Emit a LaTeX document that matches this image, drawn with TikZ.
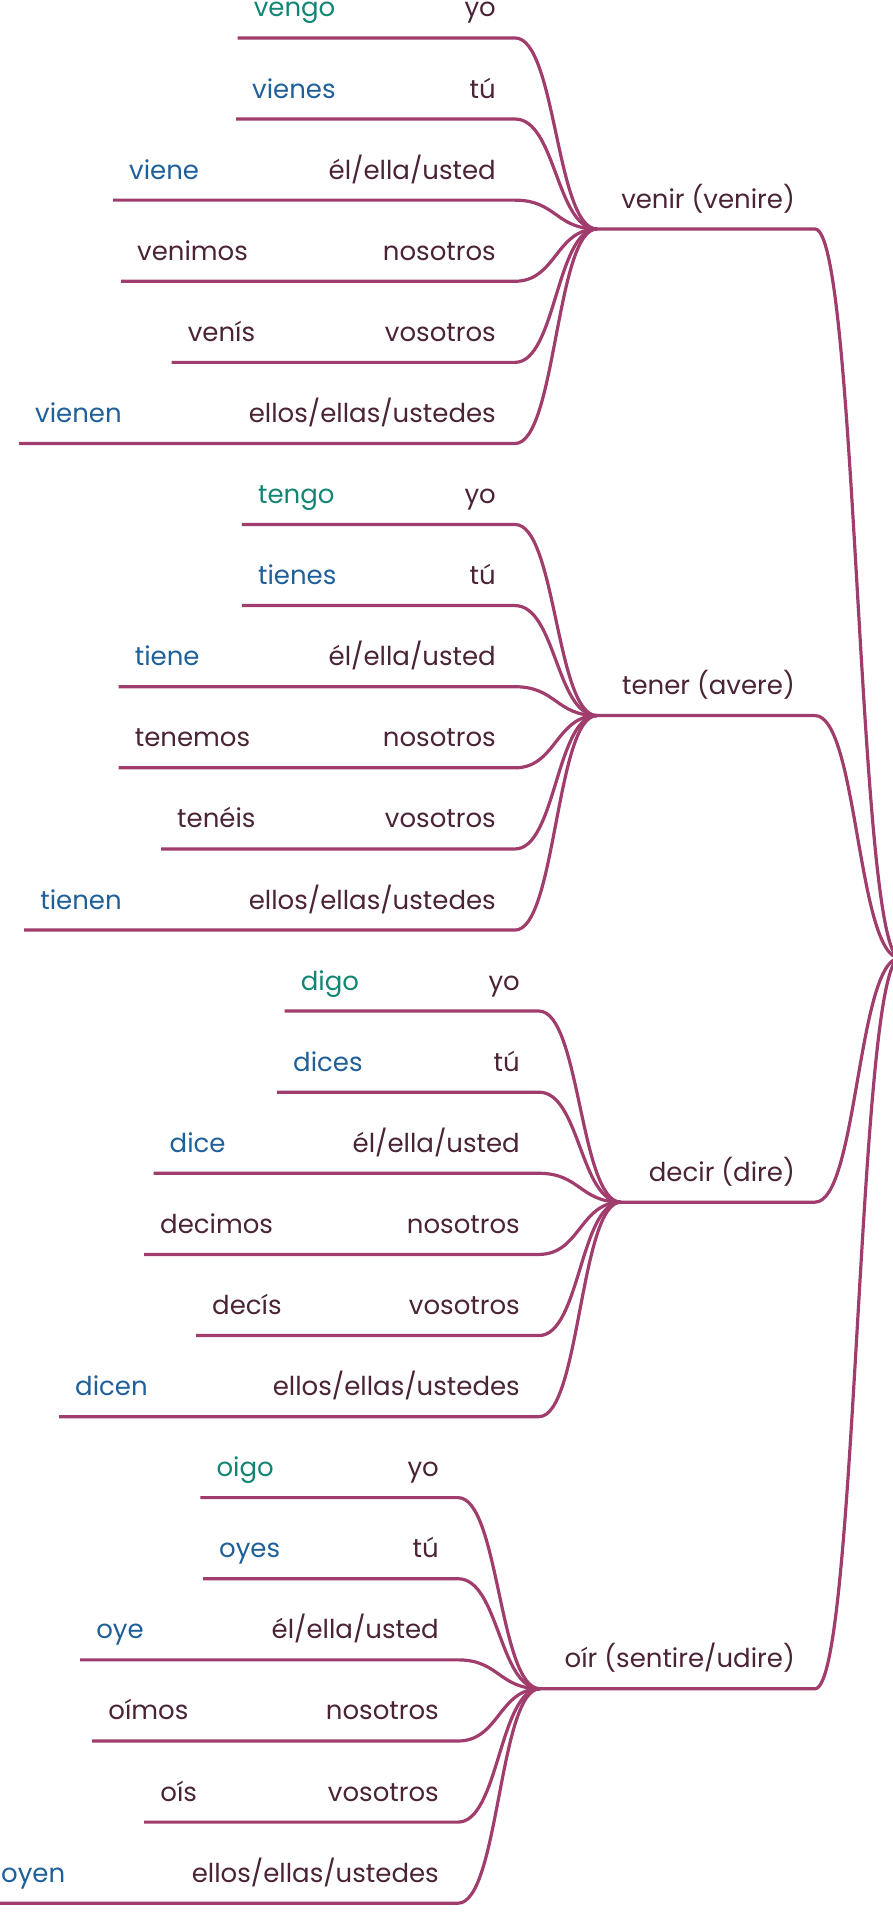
\documentclass[tikz,border=0pt]{standalone}
\usepackage{fontspec}
\setmainfont{Poppins}
\usetikzlibrary{calc}
\definecolor{linec}{HTML}{A03D6D}
\definecolor{txt}{HTML}{4A2337}
\definecolor{grn}{HTML}{138574}
\definecolor{blu}{HTML}{1F5F9A}
\tikzset{
  conn/.style={draw=linec, line width=3.2pt},
  lbl/.style={inner sep=0pt, font=\fontsize{26}{30}\selectfont, text=txt},
}
\newcommand\setgroup[3]{%
  \pgfmathsetmacro\gH{229+486.57*#1}%
  \pgfmathsetmacro\gC{#2}%
  \pgfmathsetmacro\gX{#2+82}%
  \def\gid{#3}%
  \coordinate (\gid h) at (\gX,\gH);
  \coordinate (\gid e) at (815,\gH);
}
\newcommand\leaf[5]{%
  \pgfmathsetmacro\ly{\gH-191.1+81.12*#1}%
  \pgfmathsetmacro\mx{(\gC+\gX)/2}%
  \coordinate (\gid s#1) at (#2,\ly);
  \coordinate (\gid c#1) at (\gC,\ly);
  \node[lbl,text=#3,anchor=base west] (\gid f#1) at (#2+16,\ly-21) {#4};
  \node[lbl,anchor=base east] (\gid p#1) at (\gC-19,\ly-21) {#5};
  \draw[conn] (\gid s#1) -- (\gid c#1) .. controls (\mx,\ly) and (\mx,\gH) .. (\gid h);
}
\newcommand\hub[1]{%
  \node[lbl,anchor=base east] (\gid l) at (795,\gH-21) {#1};
  \draw[conn] (\gid h) -- (\gid e) .. controls (857.5,\gH) and (857.5,958) .. (root);
}
\begin{document}
\begin{tikzpicture}[x=1pt,y=-1pt]
\useasboundingbox (0,0) rectangle (893,1917);
\clip (0,0) rectangle (893,1917);
\coordinate (root) at (900,958);
% venir
\setgroup{0}{515}{ve}
\leaf{0}{237.6}{grn}{vengo}{yo}
\leaf{1}{236}{blu}{vienes}{tú}
\leaf{2}{113}{blu}{viene}{él/ella/usted}
\leaf{3}{121}{txt}{venimos}{nosotros}
\leaf{4}{171.7}{txt}{venís}{vosotros}
\leaf{5}{19}{blu}{vienen}{ellos/ellas/ustedes}
\hub{venir (venire)}
% tener
\setgroup{1}{515}{te}
\leaf{0}{241.9}{grn}{tengo}{yo}
\leaf{1}{241.9}{blu}{tienes}{tú}
\leaf{2}{118.6}{blu}{tiene}{él/ella/usted}
\leaf{3}{118.6}{txt}{tenemos}{nosotros}
\leaf{4}{161}{txt}{tenéis}{vosotros}
\leaf{5}{24.1}{blu}{tienen}{ellos/ellas/ustedes}
\hub{tener (avere)}
% decir
\setgroup{2}{539}{de}
\leaf{0}{284.6}{grn}{digo}{yo}
\leaf{1}{277}{blu}{dices}{tú}
\leaf{2}{153.5}{blu}{dice}{él/ella/usted}
\leaf{3}{144}{txt}{decimos}{nosotros}
\leaf{4}{196}{txt}{decís}{vosotros}
\leaf{5}{59}{blu}{dicen}{ellos/ellas/ustedes}
\hub{decir (dire)}
% oir
\setgroup{3}{458}{oi}
\leaf{0}{200.3}{grn}{oigo}{yo}
\leaf{1}{203}{blu}{oyes}{tú}
\leaf{2}{80.1}{blu}{oye}{él/ella/usted}
\leaf{3}{92.2}{txt}{oímos}{nosotros}
\leaf{4}{144.2}{txt}{oís}{vosotros}
\leaf{5}{-15}{blu}{oyen}{ellos/ellas/ustedes}
\hub{oír (sentire/udire)}
\end{tikzpicture}
\end{document}
